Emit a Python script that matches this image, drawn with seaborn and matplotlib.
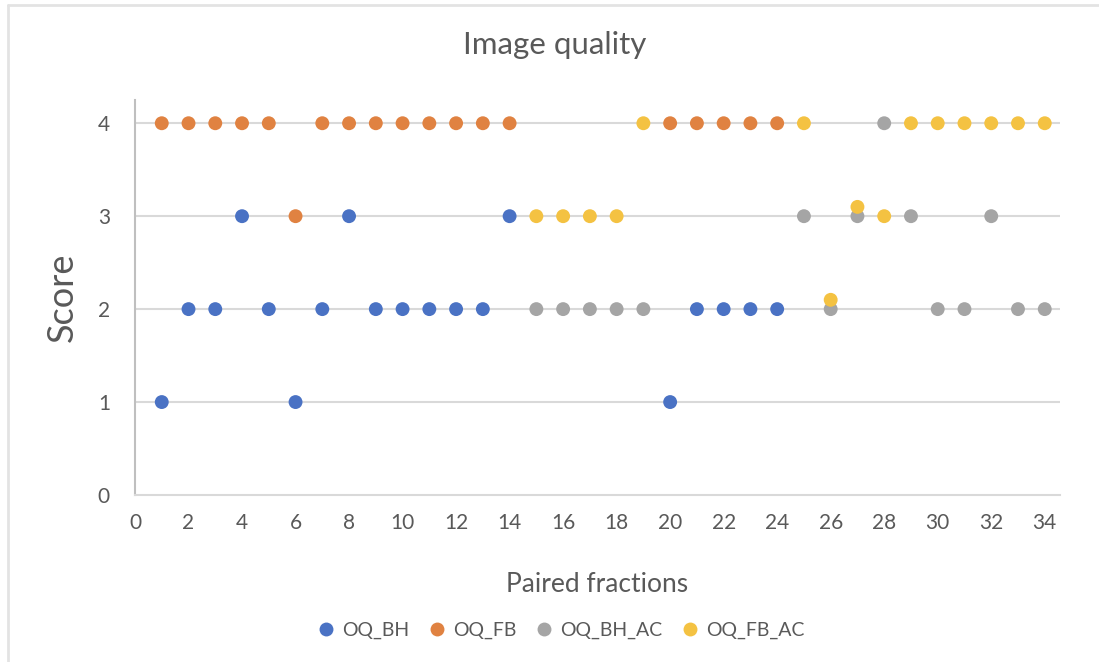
import numpy as np
import pandas as pd
import matplotlib
matplotlib.use("Agg")
import matplotlib.pyplot as plt
from matplotlib.lines import Line2D
import seaborn as sns

# Paired fraction index
fractions = list(range(1, 35))

# Scores per series (None = no value for that fraction)
oq_bh = [1, 2, 2, 3, 2, 1, 2, 3, 2, 2, 2, 2, 2, 3,
         None, None, None, None, None,
         1, 2, 2, 2, 2,
         None, None, None, None, None, None, None, None, None, None]
oq_fb = [4, 4, 4, 4, 4, 3, 4, 4, 4, 4, 4, 4, 4, 4,
         None, None, None, None, None,
         4, 4, 4, 4, 4,
         None, None, None, None, None, None, None, None, None, None]
oq_bh_ac = [None] * 14 + [2, 2, 2, 2, 2] + [None] * 5 + \
           [3, 2, 3, 4, 3, 2, 2, 3, 2, 2]
oq_fb_ac = [None] * 14 + [3, 3, 3, 3, 4] + [None] * 5 + \
           [4, 2.1, 3.1, 3, 4, 4, 4, 4, 4, 4]

series_names = ["OQ_BH", "OQ_FB", "OQ_BH_AC", "OQ_FB_AC"]
series_values = [oq_bh, oq_fb, oq_bh_ac, oq_fb_ac]
colors = ["#4A72C4", "#E08241", "#A5A5A5", "#F4C242"]

y_ticks = [0, 1, 2, 3, 4]
x_ticks = list(range(0, 35, 2))

frames = []
for name, vals in zip(series_names, series_values):
    frames.append(pd.DataFrame({"fraction": fractions, "score": vals, "series": name}))
df = pd.concat(frames, ignore_index=True).dropna(subset=["score"])
df["score"] = df["score"].astype(float)

sns.set_theme(style="white")
plt.rcParams["font.family"] = ["Lato", "DejaVu Sans"]

text_color = "#595959"
fig = plt.figure(figsize=(10.99, 6.62), dpi=100)
ax = fig.add_axes([135 / 1099, 1 - 495 / 662, (1060 - 135) / 1099, (495 - 100) / 662])

sns.scatterplot(data=df, x="fraction", y="score", hue="series",
                hue_order=series_names, palette=colors, s=100,
                edgecolor="none", linewidth=0, legend=False, ax=ax, zorder=3)

ax.set_xlim(0, 34.57)
ax.set_ylim(0, 4.25)
ax.set_xticks(x_ticks)
ax.set_yticks(y_ticks)
ax.tick_params(axis="x", length=0, labelsize=15, colors=text_color, pad=13)
ax.tick_params(axis="y", length=0, labelsize=15, colors=text_color, pad=18)
for y in y_ticks[1:]:
    ax.axhline(y, color="#D9D9D9", lw=1.5, zorder=1)

for side in ["top", "right"]:
    ax.spines[side].set_visible(False)
ax.spines["left"].set_color("#BFBFBF")
ax.spines["left"].set_linewidth(1.5)
ax.spines["bottom"].set_color("#D9D9D9")
ax.spines["bottom"].set_linewidth(1.5)

ax.set_xlabel("Paired fractions", fontsize=19, color=text_color, labelpad=28)
ax.set_ylabel("Score", fontsize=26, color=text_color, labelpad=14)
fig.text(0.505, 1 - 45 / 662, "Image quality", fontsize=22.5, color=text_color,
         ha="center", va="center")

handles = [Line2D([], [], marker="o", linestyle="none", markersize=10,
                  markerfacecolor=c, markeredgecolor="none") for c in colors]
fig.legend(handles, series_names, loc="center", ncol=4, frameon=False,
           bbox_to_anchor=(0.51, 1 - 630 / 662), fontsize=14,
           labelcolor=text_color, handletextpad=0.3, columnspacing=0.95,
           handlelength=1.0)

# Chart-area frame lines (top and left)
fig.add_artist(Line2D([8 / 1099, 1], [1 - 5 / 662, 1 - 5 / 662],
                      transform=fig.transFigure, color="#E3E3E3", lw=2))
fig.add_artist(Line2D([8 / 1099, 8 / 1099], [0, 1 - 5 / 662],
                      transform=fig.transFigure, color="#E3E3E3", lw=2))

fig.savefig("out.png", dpi=100, facecolor="white")
